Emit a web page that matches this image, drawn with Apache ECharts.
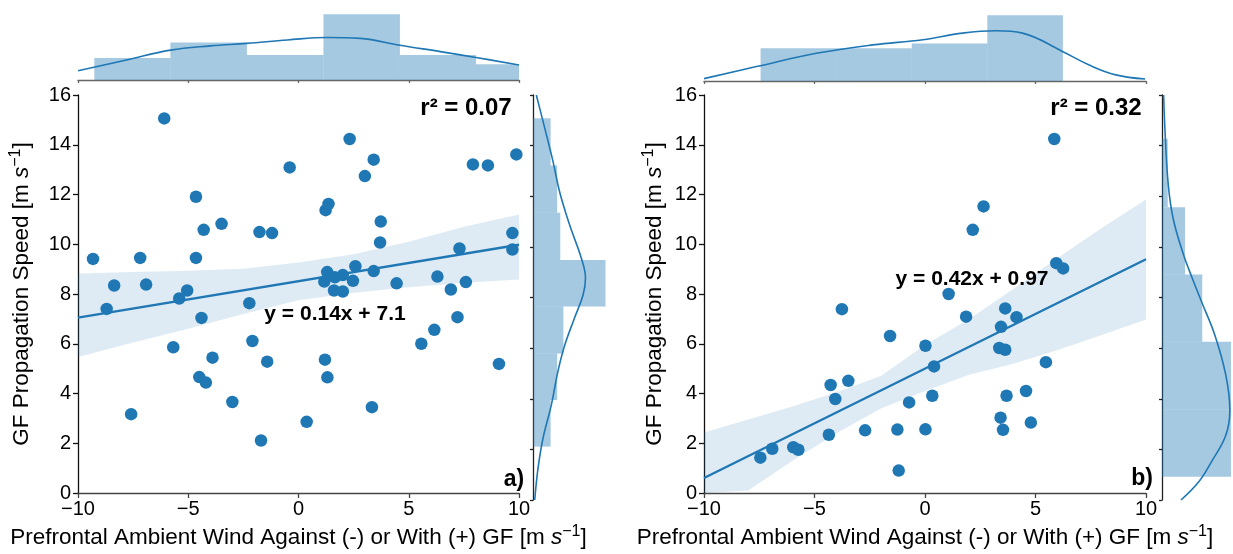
<!DOCTYPE html>
<html><head><meta charset="utf-8">
<script src="https://cdn.jsdelivr.net/npm/echarts@6/dist/echarts.min.js"></script>
<style>html,body{margin:0;padding:0;background:#fff}#c{width:1233px;height:554px}</style>
</head><body><div id="c"></div>
<script>
// ---- Panel a) data ----
const windA = [-9.32,-8.70,-8.36,-7.59,-7.18,-6.91,-6.09,-5.68,-5.41,-5.05,-4.65,-4.65,-4.40,-4.30,-4.50,-4.20,-3.90,-3.49,-3.00,-2.23,-2.09,-1.77,-1.70,-1.42,-1.20,-0.40,0.37,1.17,1.20,1.23,1.30,1.31,1.36,1.61,1.65,2.01,2.01,2.32,2.47,2.58,3.01,3.33,3.41,3.41,3.70,3.73,4.45,5.57,6.16,6.30,6.91,7.21,7.30,7.59,7.91,8.59,9.09,9.70,9.70,9.88];
const speedA = [9.41,7.40,8.34,3.17,9.45,8.38,15.06,5.86,7.82,8.14,11.91,9.45,7.04,10.58,4.66,4.44,5.44,10.82,3.66,7.63,6.11,10.49,2.11,5.28,10.45,13.09,2.86,8.50,5.36,11.37,8.88,4.65,11.62,8.14,8.67,8.76,8.10,14.23,8.53,9.12,12.74,3.45,13.40,8.92,10.07,10.91,8.43,6.00,6.56,8.70,8.18,7.07,9.83,8.48,13.21,13.17,5.19,10.45,9.79,13.61];
const fitAx = [-10, 10];
const fitAy = [7.05, 9.98];
const bandAx = [-10,-7.5,-5,-2.5,0,2.5,5,7.5,10];
const bandAlo = [5.47,6.05,6.6,7.2,7.75,8.05,8.27,8.45,8.58];
const bandAhi = [8.82,8.88,8.93,9.02,9.27,9.6,10.1,10.7,11.2];
const histAxEdges = [-9.26,-5.81,-2.34,1.13,4.60,8.05,11.5];
const histAxCounts = [7,12,8,21,8,5];
const kdeAxX = [-10,-7.8,-5.81,-4,-2.34,-0.5,1.3,2.8,4.6,6.5,8.05,10];
const kdeAxY = [2.97,6.4,9.55,10.9,11.7,12.8,13.6,13.3,11.1,9.0,7.2,4.8];
const histAyEdges = [2.11,3.95,5.79,7.64,9.48,11.35,13.21,15.08];
const histAyCounts = [5.1,7.0,8.8,21,7.9,7.0,5.1];
const kdeAyY = [16,14.69,13.37,12.18,10.87,9.55,8.76,8.1,7.18,6.12,5.07,3.75,2.44,1.25,0];
const kdeAyX = [0.96,3.4,5.8,7.7,10.6,14.0,15.2,14.5,12.0,9.2,7.2,5.3,2.9,1.45,0.5];

// ---- Panel b) data ----
const windB = [-7.45,-6.91,-5.96,-5.73,-4.35,-4.27,-4.06,-3.76,-3.47,-2.71,-1.58,-1.25,-1.19,-0.72,0.02,0.02,0.33,0.41,1.07,1.86,2.16,2.65,3.36,3.42,3.44,3.53,3.63,3.63,3.69,4.14,4.57,4.79,5.47,5.85,5.94,6.25];
const speedB = [1.42,1.78,1.84,1.74,2.34,4.34,3.78,7.39,4.51,2.52,6.31,2.55,0.90,3.64,5.92,2.56,3.91,5.09,8.00,7.09,10.58,11.52,5.83,3.03,6.68,2.54,7.42,5.76,3.91,7.07,4.10,2.83,5.26,14.23,9.24,9.03];
const fitBx = [-10, 10];
const fitBy = [0.6, 9.4];
const bandBx = [-10,-8,-6,-4,-2,0,2,4,6,8,10];
const bandBlo = [-1.0,0.1,1.3,2.4,3.4,4.1,4.75,5.2,5.75,6.35,6.97];
const bandBhi = [2.43,2.95,3.48,4.05,4.7,5.95,7.0,8.2,9.45,10.65,11.8];
const histBxEdges = [-7.44,-4.02,-0.60,2.82,6.24];
const histBxCounts = [7,7,8,14];
const kdeBxX = [-10,-7.63,-4.92,-2.36,-0.10,1.70,3.21,4.41,6.22,7.43,8.63,9.96];
const kdeBxY = [0.5,3.07,5.9,7.7,8.8,10.2,10.7,10.2,6.3,3.4,1.3,0.43];
const histByEdges = [0.92,3.58,6.25,8.91,11.57,14.27];
const histByCounts = [12,12,7,4,1];
const kdeByY = [16,14.4,12.43,11.11,9.79,8.74,7.82,6.51,4.93,3.55,2.56,1.51,0.72,0];
const kdeByX = [0.28,0.56,1.1,1.95,3.6,5.3,6.9,9.2,11.1,11.8,11.1,8.6,6.4,3.3];

// ---- texts ----
const xTitle = 'Prefrontal Ambient Wind Against (-) or With (+) GF [m ';
const yTitle = 'GF Propagation Speed [m ';
const r2A = 'r\u00b2 = 0.07', eqA = 'y = 0.14x + 7.1', tagA = 'a)';
const r2B = 'r\u00b2 = 0.32', eqB = 'y = 0.42x + 0.97', tagB = 'b)';

const FONT = '"Liberation Sans", Arial, sans-serif';
const BLUE = '#1f77b4';
const HIST = 'rgba(31,119,180,0.4)';
const BAND = 'rgba(31,119,180,0.15)';
const minus = v => String(v).replace('-', '\u2212');
const zip = (a, b) => a.map((v, i) => [v, b[i]]);

const chart = echarts.init(document.getElementById('c'), null, {renderer: 'canvas'});

const grids = [
  {left: 78, top: 95, width: 441, height: 405},
  {left: 78, top: 11, width: 441, height: 69},
  {left: 533, top: 95, width: 77, height: 405},
  {left: 704, top: 95, width: 442, height: 405},
  {left: 704, top: 12, width: 442, height: 69},
  {left: 1162, top: 95, width: 76, height: 405}
];

const richName = {
  n: {fontSize: 22.5, fontFamily: FONT, color: '#000', lineHeight: 27},
  i: {fontSize: 22.5, fontFamily: FONT, color: '#000', fontStyle: 'italic', lineHeight: 27},
  s: {fontSize: 16, fontFamily: FONT, color: '#000', verticalAlign: 'top', lineHeight: 15}
};

function mainX(gi) {
  return {gridIndex: gi, type: 'value', min: -10, max: 10, interval: 5,
    name: '{n|' + xTitle + '}{i|s}{s|\u22121}{n|]}', nameLocation: 'middle', nameGap: 31,
    nameTextStyle: {rich: richName},
    axisLine: {show: true, onZero: false, lineStyle: {color: '#444', width: 1.3}},
    axisTick: {show: true, length: 5, lineStyle: {color: '#444', width: 1.3}},
    axisLabel: {fontSize: 20, color: '#000', fontFamily: FONT, margin: 6, formatter: v => minus(v)},
    splitLine: {show: false}};
}
function mainY(gi, gap) {
  return {gridIndex: gi, type: 'value', min: 0, max: 16, interval: 2,
    name: '{n|' + yTitle + '}{i|s}{s|\u22121}{n|]}', nameLocation: 'middle', nameGap: gap, nameRotate: 90,
    nameTextStyle: {rich: richName},
    axisLine: {show: true, onZero: false, lineStyle: {color: '#111', width: 1.3}},
    axisTick: {show: true, length: 5, lineStyle: {color: '#111', width: 1.3}},
    axisLabel: {fontSize: 20, color: '#000', fontFamily: FONT, margin: 7},
    splitLine: {show: false}};
}
function margX(gi) {
  return {gridIndex: gi, type: 'value', min: -10, max: 10, interval: 5,
    axisLine: {show: true, onZero: false, lineStyle: {color: '#666', width: 1.3}},
    axisTick: {show: true, length: 3, lineStyle: {color: '#666', width: 1.3}},
    axisLabel: {show: false}, splitLine: {show: false}};
}
function margY(gi) {
  return {gridIndex: gi, type: 'value', min: 0, max: 16, interval: 2,
    axisLine: {show: true, onZero: false, lineStyle: {color: '#222', width: 1.3}},
    axisTick: {show: true, length: 3, lineStyle: {color: '#222', width: 1.3}},
    axisLabel: {show: false}, splitLine: {show: false}};
}
function hidden(gi, max) {
  return {gridIndex: gi, type: 'value', min: 0, max: max, show: false, splitLine: {show: false}};
}

function clipRect(shape, params) {
  return echarts.graphic.clipRectByRect(shape, {
    x: params.coordSys.x, y: params.coordSys.y,
    width: params.coordSys.width, height: params.coordSys.height});
}
function vHist(gi, edges, counts) {
  return {type: 'custom', xAxisIndex: gi, yAxisIndex: gi, z: 1,
    data: counts.map((c, i) => [edges[i], edges[i + 1], c]),
    renderItem: (params, api) => {
      const a = api.coord([api.value(0), api.value(2)]);
      const b = api.coord([api.value(1), 0]);
      const shape = clipRect({x: a[0], y: a[1], width: b[0] - a[0], height: b[1] - a[1]}, params);
      return shape && {type: 'rect', shape: shape, style: {fill: HIST}};
    }};
}
function hHist(gi, edges, counts) {
  return {type: 'custom', xAxisIndex: gi, yAxisIndex: gi, z: 1,
    data: counts.map((c, i) => [edges[i], edges[i + 1], c]),
    renderItem: (params, api) => {
      const a = api.coord([0, api.value(1)]);
      const b = api.coord([api.value(2), api.value(0)]);
      const shape = clipRect({x: a[0], y: a[1], width: b[0] - a[0], height: b[1] - a[1]}, params);
      return shape && {type: 'rect', shape: shape, style: {fill: HIST}};
    }};
}
function band(gi, xs, lo, hi) {
  return {type: 'custom', xAxisIndex: gi, yAxisIndex: gi, z: 3, silent: true,
    data: [[xs[0], lo[0]]],
    renderItem: (params, api) => {
      const pts = [];
      xs.forEach((x, i) => pts.push(api.coord([x, hi[i]])));
      for (let i = xs.length - 1; i >= 0; i--) pts.push(api.coord([xs[i], lo[i]]));
      const cs = params.coordSys;
      const clipped = echarts.graphic.clipPointsByRect(pts, {x: cs.x, y: cs.y, width: cs.width, height: cs.height});
      return {type: 'polygon', shape: {points: clipped}, style: {fill: BAND}};
    }};
}
function kde(gi, xs, ys) {
  return {type: 'line', xAxisIndex: gi, yAxisIndex: gi, data: zip(xs, ys), smooth: 0.4,
    symbol: 'none', z: 4, lineStyle: {color: BLUE, width: 1.6}, clip: true};
}
function scatter(gi, xs, ys) {
  return {type: 'scatter', xAxisIndex: gi, yAxisIndex: gi, data: zip(xs, ys), symbolSize: 12.5,
    itemStyle: {color: BLUE, opacity: 1}, z: 2, clip: false};
}
function fit(gi, xs, ys) {
  return {type: 'line', xAxisIndex: gi, yAxisIndex: gi, data: zip(xs, ys), symbol: 'none', z: 4,
    lineStyle: {color: BLUE, width: 2.3}};
}
function label(x, y, text, size) {
  return {type: 'text', x: x, y: y, z: 10,
    style: {text: text, font: 'bold ' + size + 'px ' + FONT, fill: '#000', align: 'center', verticalAlign: 'middle'}};
}

chart.setOption({
  animation: false,
  backgroundColor: '#fff',
  grid: grids,
  xAxis: [mainX(0), margX(1), hidden(2, 22.3), mainX(3), margX(4), hidden(5, 12.35)],
  yAxis: [mainY(0, 43), hidden(1, 22.05), margY(2), mainY(3, 36), hidden(4, 14.7), margY(5)],
  series: [
    scatter(0, windA, speedA), band(0, bandAx, bandAlo, bandAhi), fit(0, fitAx, fitAy),
    vHist(1, histAxEdges, histAxCounts), kde(1, kdeAxX, kdeAxY),
    hHist(2, histAyEdges, histAyCounts), kde(2, kdeAyX, kdeAyY),
    scatter(3, windB, speedB), band(3, bandBx, bandBlo, bandBhi), fit(3, fitBx, fitBy),
    vHist(4, histBxEdges, histBxCounts), kde(4, kdeBxX, kdeBxY),
    hHist(5, histByEdges, histByCounts), kde(5, kdeByX, kdeByY)
  ],
  graphic: [
    label(466, 108, r2A, 24), label(335, 314, eqA, 21), label(514, 480, tagA, 23),
    label(1096, 108, r2B, 24), label(972, 279, eqB, 21), label(1142, 479, tagB, 23)
  ]
});
</script>
</body></html>
